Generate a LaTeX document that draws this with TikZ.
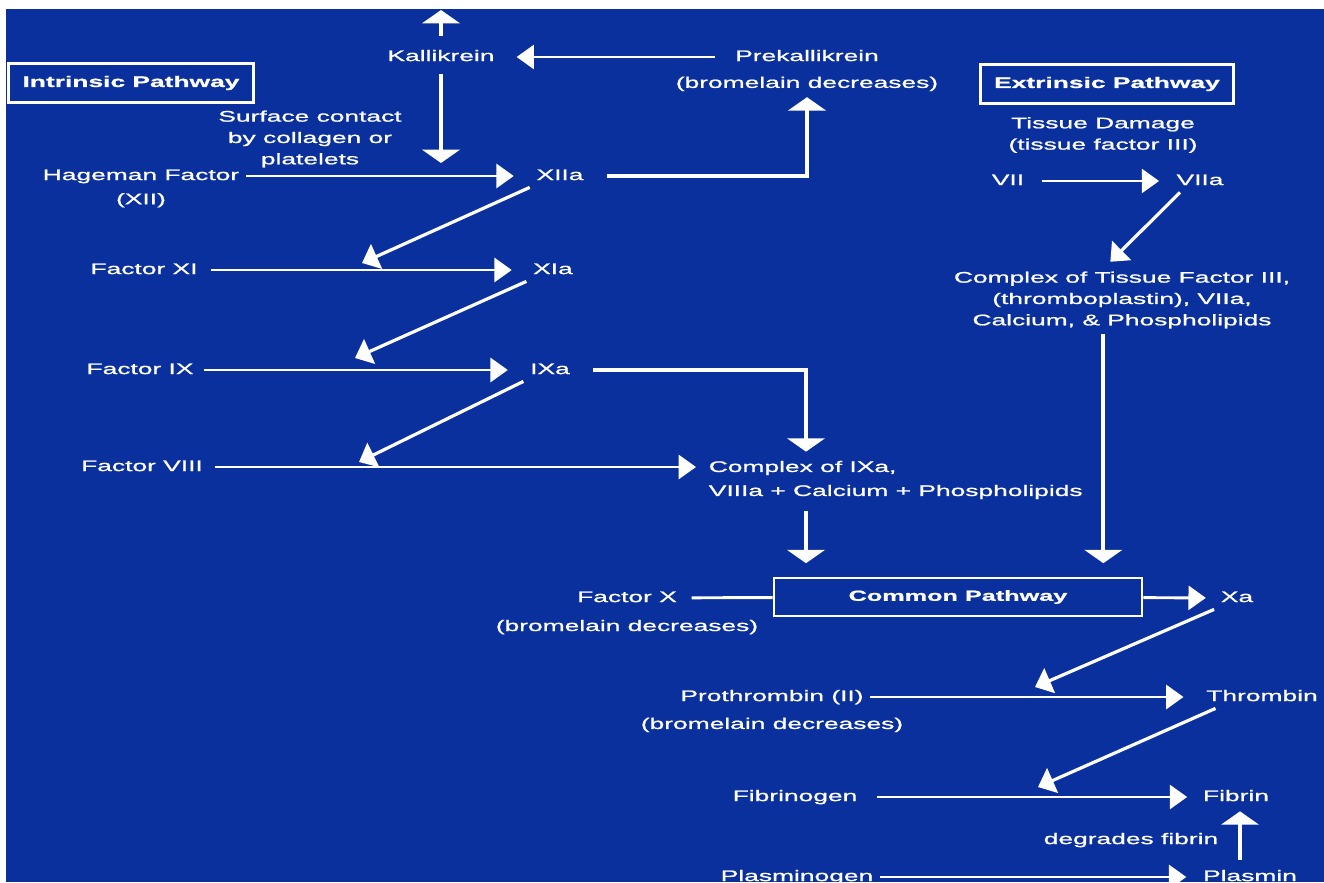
\documentclass[tikz,border=0pt]{standalone}
\usepackage{fontspec}
\setmainfont[FakeStretch=1.72,FakeBold=1.1]{Liberation Sans}
\usepackage{tikz}
\usetikzlibrary{arrows.meta, positioning}
\definecolor{slideblue}{RGB}{10,48,158}
\tikzset{->,>={Triangle[length=13pt,width=18pt]},
    txt/.style={inner xsep=4pt,inner ysep=2pt,text height=8.5pt,text depth=2.4pt,
        font=\fontsize{11.5}{16}\selectfont},
    multi/.style={inner xsep=4pt,inner ysep=2pt,align=center,
        font=\fontsize{11.5}{16}\selectfont},
    pathway/.style={draw,line width=2.2pt,inner sep=0pt,
        font=\fontsize{11.5}{16}\selectfont\bfseries},
    vert/.style={-{Triangle[length=10pt,width=28pt]},line width=3.2pt},
    elbow/.style={-{Triangle[length=10pt,width=28pt]},line width=2.6pt},
    slant/.style={-{Triangle[length=12pt,width=20pt]},line width=2.4pt},
    joint/.style={-}}

\begin{document}
\begin{tikzpicture}
[x=0.75pt,y=-0.75pt,white,line width=2.2pt]
\useasboundingbox (0,0) rectangle (1324,882);
\fill[-,white] (0,0) rectangle (1324,882);
\fill[-,slideblue] (6,9) rectangle (1324,882);

\node[pathway,minimum width=184pt,minimum height=29pt] (intr) at (131,83) {Intrinsic Pathway};
\node[pathway,minimum width=190pt,minimum height=29pt] (extr) at (1107,84) {Extrinsic Pathway};
\node[pathway,minimum width=276pt,minimum height=28.5pt,
    font=\fontsize{11}{14}\selectfont\bfseries] (comm) at (958,597) {Common Pathway};

\node[txt] (kal)     at (441,57)  {Kallikrein};
\node[txt] (prek)    at (807,57)  {Prekallikrein};
\node[txt] (preksub) [below=3pt of prek] {(bromelain decreases)};
\node[multi] (surf)  at (310,139) {Surface contact\\by collagen or\\platelets};
\node[txt] (hag)     at (141,176) {Hageman Factor};
\node[txt] (hagsub)  [below=1pt of hag] {(XII)};
\node[txt] (xiia)    at (560,176) {XIIa};
\node[multi] (tissue) at (1103,135) {Tissue Damage\\(tissue factor III)};
\node[txt] (vii)     at (1008,181) {VII};
\node[txt] (viia)    at (1200,181) {VIIa};
\node[multi] (tfc)   at (1122,300) {Complex of Tissue Factor III,\\(thromboplastin), VIIa,\\Calcium, \& Phospholipids};
\node[txt] (xi)      at (144,270) {Factor XI};
\node[txt] (xia)     at (553,270) {XIa};
\node[txt] (ix)      at (140,370) {Factor IX};
\node[txt] (ixa)     at (550,370) {IXa};
\node[txt] (viii)    at (142,467) {Factor VIII};
\node[multi,align=left,anchor=west,font=\fontsize{11.5}{18}\selectfont] (cplx) at (702,480)
    {Complex of IXa,\\VIIIa + Calcium + Phospholipids};
\node[txt] (fx)      at (627,598) {Factor X};
\node[txt] (fxsub)   [below=4.6pt of fx] {(bromelain decreases)};
\node[txt] (xa)      at (1237,598) {Xa};
\node[txt] (pro)     at (772,697) {Prothrombin (II)};
\node[txt] (prosub)  [below=3.8pt of pro] {(bromelain decreases)};
\node[txt] (thr)     at (1262,697) {Thrombin};
\node[txt] (fbg)     at (795,797) {Fibrinogen};
\node[txt] (fbn)     at (1236,797) {Fibrin};
\node[txt] (degr)    at (1131,840) {degrades fibrin};
\node[txt] (plg)     at (797,877) {Plasminogen};
\node[txt] (pls)     at (1250,877) {Plasmin};

\coordinate (kaltop)  at (441,10);
\coordinate (hagmid)  at (441,163);
\coordinate (xihit)   at (362,263);
\coordinate (ixhit)   at (355,358);
\coordinate (viiihit) at (359,462);
\coordinate (ixturn)  at (806,370);
\coordinate (prohit)  at (1035,687);
\coordinate (fbghit)  at (1038,787);

\path[]
    (kal)   edge [vert,shorten <=7.5pt]                 (kaltop)
    (prek)  edge [shorten <=10pt,shorten >=11.5pt]      (kal)
    (kal)   edge [vert,shorten <=4.5pt]                 (hagmid)
    (hag)   edge [shorten >=12pt]                       (xiia)
    (vii)   edge [shorten <=8pt,shorten >=8pt]          (viia)
    (xi)    edge [shorten <=4.7pt,shorten >=11pt]       (xia)
    (ix)    edge [shorten <=2.5pt,shorten >=11.7pt]     (ixa)
    (viii)  edge [shorten <=3.7pt,shorten >=4.5pt]      (viii -| cplx.west)
    (fx)    edge [joint,shorten <=6pt]                  (comm)
    (comm)  edge [shorten >=6.2pt]                      (xa)
    (pro)   edge [shorten >=12pt]                       (thr)
    (fbg)   edge [shorten <=10pt,shorten >=6.8pt]       (fbn)
    (plg)   edge [shorten >=7.5pt]                      (pls)
    (xiia.south west) edge [slant]                      (xihit)
    (xia.south west)  edge [slant]                      (ixhit)
    (ixa.south west)  edge [slant]                      (viiihit)
    (xa.south west)   edge [slant]                      (prohit)
    ([xshift=12pt]thr.south west) edge [slant]          (fbghit)
    ([xshift=-15pt]viia.south) edge [slant,shorten >=6pt] ([xshift=-13pt]tfc.north);

\draw[elbow,shorten <=12.7pt,shorten >=1.5pt] (xiia) -| (preksub);
\draw[elbow,shorten <=12.4pt,shorten >=3.8pt] (ixa) -- (ixturn) -- (ixturn |- cplx.north);
\draw[vert,shorten <=6pt,shorten >=10pt] (ixturn |- cplx.south) -- (ixturn |- comm.north);
\draw[vert,shorten <=1pt,shorten >=10pt] ([xshift=-14pt]tfc.south) -- ([xshift=-14pt]tfc.south |- comm.north);
\draw[vert,shorten <=4.5pt,shorten >=2.2pt] ([xshift=-7.5pt]pls.north) -- ([xshift=-7.5pt]pls.north |- fbn.south);
\end{tikzpicture}
\end{document}
